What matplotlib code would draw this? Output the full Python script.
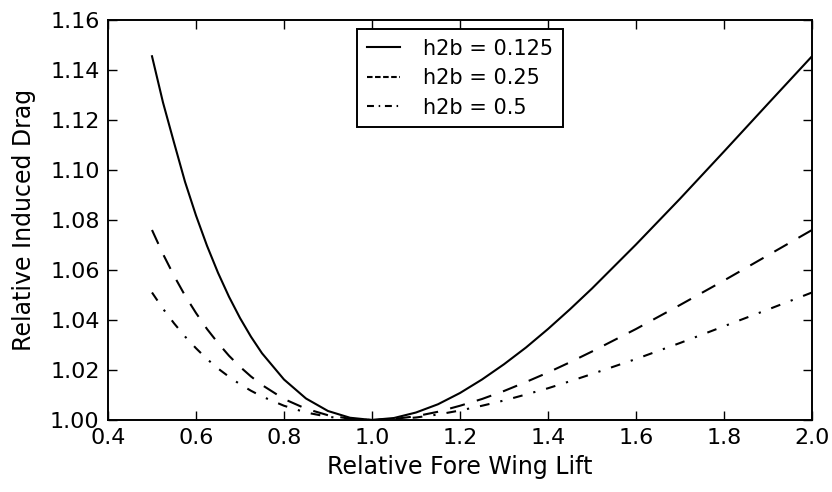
import matplotlib
matplotlib.use("Agg")
import matplotlib.pyplot as plt
from matplotlib.ticker import FormatStrFormatter, MultipleLocator

# values
fore_lift = [0.500, 0.525, 0.550, 0.575, 0.600, 0.625, 0.650, 0.675, 0.700, 0.725, 0.750,
             0.800, 0.850, 0.900, 0.950, 1.000, 1.050, 1.100, 1.150, 1.200, 1.250,
             1.300, 1.350, 1.400, 1.450, 1.500, 1.600, 1.700, 1.800, 1.900, 2.000]
drag_0125 = [1.1455, 1.1270, 1.1110, 1.0953, 1.0818, 1.0697, 1.0589, 1.0493, 1.0408, 1.0333, 1.0267,
             1.0162, 1.0086, 1.0036, 1.0009, 1.0000, 1.0008, 1.0030, 1.0063, 1.0108, 1.0162,
             1.0223, 1.0290, 1.0364, 1.0443, 1.0526, 1.0702, 1.0885, 1.1074, 1.1265, 1.1455]
drag_025 = [1.0760, 1.0664, 1.0577, 1.0498, 1.0428, 1.0364, 1.0308, 1.0257, 1.0213, 1.0174, 1.0140,
            1.0084, 1.0045, 1.0019, 1.0005, 1.0000, 1.0004, 1.0015, 1.0033, 1.0057, 1.0084,
            1.0116, 1.0152, 1.0190, 1.0231, 1.0274, 1.0364, 1.0460, 1.0558, 1.0659, 1.0760]
drag_05 = [1.0510, 1.0445, 1.0387, 1.0334, 1.0287, 1.0244, 1.0206, 1.0173, 1.0143, 1.0117, 1.0094,
           1.0057, 1.0030, 1.0013, 1.0003, 1.0000, 1.0003, 1.0010, 1.0022, 1.0038, 1.0057,
           1.0078, 1.0102, 1.0127, 1.0155, 1.0184, 1.0244, 1.0308, 1.0375, 1.0442, 1.0510]
labels = ["h2b = 0.125", "h2b = 0.25", "h2b = 0.5"]

plt.rcParams["font.family"] = "DejaVu Sans"
plt.rcParams["lines.scale_dashes"] = False

fig = plt.figure(figsize=(8.32, 4.92), dpi=100)
ax = fig.add_axes([108 / 832, 1 - 420 / 492, 704 / 832, 400 / 492])

ax.plot(fore_lift, drag_0125, color="black", lw=1.5, label=labels[0])
ax.plot(fore_lift, drag_025, color="black", lw=1.5, dashes=(11, 9), label=labels[1])
ax.plot(fore_lift, drag_05, color="black", lw=1.5, dashes=(7, 8, 1.6, 8), label=labels[2])

ax.set_xlim(0.4, 2.0)
ax.set_ylim(1.0, 1.16)
ax.xaxis.set_major_locator(MultipleLocator(0.2))
ax.yaxis.set_major_locator(MultipleLocator(0.02))
ax.xaxis.set_major_formatter(FormatStrFormatter("%.1f"))
ax.yaxis.set_major_formatter(FormatStrFormatter("%.2f"))
ax.tick_params(direction="in", length=6.5, width=1, top=True, right=True,
               labelsize=16, pad=6)
for s in ax.spines.values():
    s.set_linewidth(1.4)

ax.set_xlabel("Relative Fore Wing Lift", fontsize=17, labelpad=5)
ax.set_ylabel("Relative Induced Drag", fontsize=17, labelpad=10)

leg = ax.legend(loc="upper center", fontsize=15, fancybox=False, framealpha=1,
                edgecolor="black", handlelength=1.6, handletextpad=1.1,
                borderpad=0.45, labelspacing=0.45, borderaxespad=0.45)
leg.get_frame().set_linewidth(1.4)
hl = leg.get_lines()
hl[1].set_dashes((4, 1.8))
hl[2].set_dashes((5, 3.4, 1.1, 3.4))

fig.savefig("out.png", dpi=100)
